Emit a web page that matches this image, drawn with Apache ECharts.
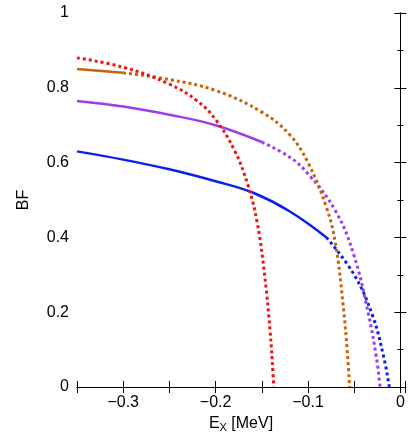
<!DOCTYPE html><html><head><meta charset="utf-8"><script src="https://cdn.jsdelivr.net/npm/echarts@6/dist/echarts.min.js"></script></head><body style="margin:0"><div id="c" style="width:412px;height:442px"></div><script>
const blueSolid=[[-0.35,0.63],[-0.3,0.608],[-0.25,0.582],[-0.2,0.55],[-0.16,0.52],[-0.12,0.47],[-0.08,0.40]];
const blueDot=[[-0.08,0.40],[-0.05,0.30],[-0.03,0.19],[-0.018,0.08],[-0.012,0.0]];
const purpleSolid=[[-0.35,0.765],[-0.3,0.75],[-0.25,0.728],[-0.2,0.70],[-0.15,0.655]];
const purpleDot=[[-0.15,0.655],[-0.12,0.615],[-0.1,0.57],[-0.07,0.47],[-0.05,0.35],[-0.035,0.2],[-0.026,0.08],[-0.022,0]];
const orangeSolid=[[-0.35,0.85],[-0.3,0.84]];
const orangeDot=[[-0.3,0.84],[-0.25,0.822],[-0.2,0.793],[-0.15,0.735],[-0.12,0.675],[-0.1,0.6],[-0.08,0.48],[-0.07,0.38],[-0.062,0.22],[-0.057,0.08],[-0.055,0]];
const redDot=[[-0.35,0.88],[-0.3,0.855],[-0.25,0.81],[-0.22,0.765],[-0.2,0.715],[-0.18,0.635],[-0.165,0.54],[-0.155,0.44],[-0.147,0.3],[-0.141,0.15],[-0.138,0.04],[-0.137,0]];
const F='Liberation Sans';
const ax={axisLine:{lineStyle:{color:'#000',width:1}},axisTick:{inside:true,length:6,lineStyle:{color:'#000'}},minorTick:{show:true,splitNumber:2,length:3,lineStyle:{color:'#000'}},splitLine:{show:false},axisLabel:{color:'#000',fontSize:16,fontFamily:F}};
function s(d,c,dot){return {type:'line',data:d,smooth:0.4,symbol:'none',lineStyle:{color:c,width:dot?3:2.5,type:dot?[3,3]:'solid'}};}
const xb={type:'value',min:-0.35,max:0.005,interval:0.05};
const yb={type:'value',min:0,max:1,interval:0.2};
const ch=echarts.init(document.getElementById('c'));
ch.setOption({animation:false,grid:{left:77,right:7,top:13,bottom:55},
xAxis:[Object.assign({},ax,xb,{minorTick:{show:false},
axisLabel:Object.assign({},ax.axisLabel,{formatter:v=>{const r=Math.round(v*100);if(r%10!==0)return '';return r===0?'0':'−'+(Math.abs(r)/100).toFixed(1);}}),
name:'{a|E}{b|X}{a| [MeV]}',nameLocation:'middle',nameGap:26,nameTextStyle:{rich:{a:{fontSize:16,color:'#000',fontFamily:F},b:{fontSize:11,color:'#000',padding:[8,0,0,0],fontFamily:F}}}}),
Object.assign({},ax,xb,{position:'top',minorTick:{show:false},axisLabel:{show:false}})],
yAxis:[Object.assign({},ax,yb,{axisLabel:Object.assign({},ax.axisLabel,{formatter:v=>v===0?'0':v===1?'1':v.toFixed(1)}),name:'BF',nameLocation:'middle',nameGap:45,nameTextStyle:{fontSize:16,color:'#000',fontFamily:F}}),
Object.assign({},ax,yb,{position:'right',axisLabel:{show:false}})],
series:[s(blueSolid,'#0a1ff0',0),s(blueDot,'#0a1ff0',1),s(purpleSolid,'#9b3cf0',0),s(purpleDot,'#9b3cf0',1),s(orangeSolid,'#c8620a',0),s(orangeDot,'#c8620a',1),s(redDot,'#f01414',1)]});
</script></body></html>
